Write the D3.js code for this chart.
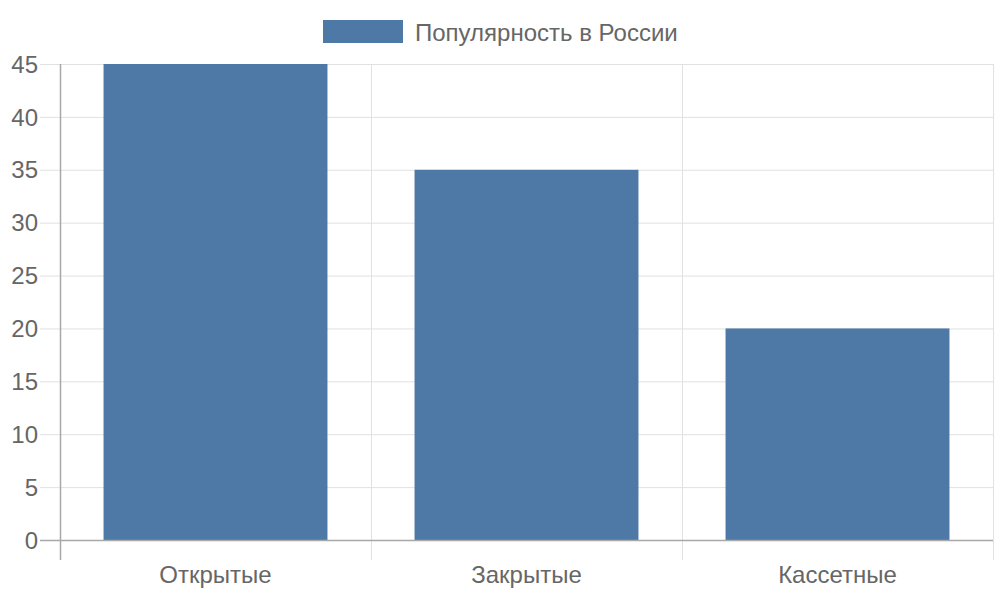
<!DOCTYPE html>
<html>
<head>
<meta charset="utf-8">
<script src="https://cdn.jsdelivr.net/npm/d3@7"></script>
<style>
  body { margin: 0; background: #fff; }
  text { font-family: "Liberation Sans", Arial, sans-serif; fill: #666; }
</style>
</head>
<body>
<svg id="chart" width="1000" height="600"></svg>
<script>
var categories = ["Открытые", "Закрытые", "Кассетные"];
var values = [45, 35, 20];
var yTicks = [0, 5, 10, 15, 20, 25, 30, 35, 40, 45];
var seriesName = "Популярность в России";

var svg = d3.select("#chart"),
    MARGINS = { top: 64, right: 7, bottom: 60, left: 60 },
    WIDTH = 1000,
    HEIGHT = 600,
    color = "#4e79a7";

var x = d3.scaleBand()
    .domain(categories)
    .range([MARGINS.left, WIDTH - MARGINS.right]);

var y = d3.scaleLinear()
    .domain([0, 45])
    .range([HEIGHT - MARGINS.bottom, MARGINS.top]);

// horizontal grid + tick marks
svg.append("g")
    .selectAll("line")
    .data(yTicks)
    .enter().append("line")
    .attr("x1", MARGINS.left - 20)
    .attr("x2", WIDTH - MARGINS.right)
    .attr("y1", function(d) { return y(d) + 0.5; })
    .attr("y2", function(d) { return y(d) + 0.5; })
    .attr("stroke", "#e1e1e1")
    .attr("stroke-width", 1);

// vertical grid
var vLines = categories.map(function(c) { return x(c); }).concat([WIDTH - MARGINS.right]);
svg.append("g")
    .selectAll("line")
    .data(vLines)
    .enter().append("line")
    .attr("x1", function(d) { return d + 0.5; })
    .attr("x2", function(d) { return d + 0.5; })
    .attr("y1", MARGINS.top)
    .attr("y2", HEIGHT - MARGINS.bottom + 20)
    .attr("stroke", "#e1e1e1")
    .attr("stroke-width", 1);

// bars
var barW = x.bandwidth() * 0.72;
svg.append("g")
    .selectAll("rect")
    .data(values)
    .enter().append("rect")
    .attr("x", function(d, i) { return x(categories[i]) + (x.bandwidth() - barW) / 2; })
    .attr("width", barW)
    .attr("y", function(d) { return y(d); })
    .attr("height", function(d) { return y(0) - y(d); })
    .attr("fill", color);

// axes lines
svg.append("line")
    .attr("x1", MARGINS.left + 0.5).attr("x2", MARGINS.left + 0.5)
    .attr("y1", MARGINS.top).attr("y2", HEIGHT - MARGINS.bottom + 20)
    .attr("stroke", "#a8a8a8").attr("stroke-width", 1.5);
svg.append("line")
    .attr("x1", MARGINS.left - 20).attr("x2", WIDTH - MARGINS.right)
    .attr("y1", y(0) + 0.5).attr("y2", y(0) + 0.5)
    .attr("stroke", "#a8a8a8").attr("stroke-width", 1.5);

// y tick labels
svg.append("g")
    .selectAll("text")
    .data(yTicks)
    .enter().append("text")
    .attr("x", MARGINS.left - 22)
    .attr("y", function(d) { return y(d); })
    .attr("dy", "0.36em")
    .attr("text-anchor", "end")
    .style("font-size", "24px")
    .text(function(d) { return d; });

// x labels
svg.append("g")
    .selectAll("text")
    .data(categories)
    .enter().append("text")
    .attr("x", function(d) { return x(d) + x.bandwidth() / 2; })
    .attr("y", HEIGHT - MARGINS.bottom + 43)
    .attr("text-anchor", "middle")
    .style("font-size", "24px")
    .text(function(d) { return d; });

// legend
var legend = svg.append("g");
legend.append("rect")
    .attr("x", 323).attr("y", 20)
    .attr("width", 80).attr("height", 23)
    .attr("fill", color);
legend.append("text")
    .attr("x", 415).attr("y", 32)
    .attr("dy", "0.36em")
    .style("font-size", "24px")
    .text(seriesName);
</script>
</body>
</html>
